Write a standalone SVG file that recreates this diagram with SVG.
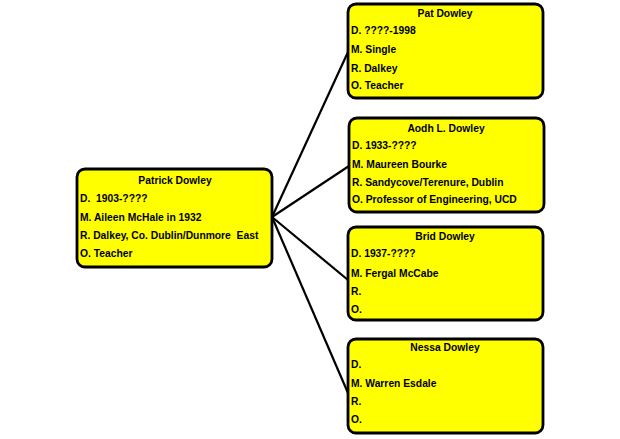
<svg xmlns="http://www.w3.org/2000/svg" width="620" height="439" viewBox="0 0 620 439">
<style>
.box{fill:#ffff00;stroke:#000;stroke-width:2.8}
text{font-family:"Liberation Sans",Arial,sans-serif;font-weight:bold;font-size:10.3px;fill:#000}
.t{text-anchor:middle}
.c{stroke:#000;stroke-width:2.2;fill:none}
</style>
<rect width="620" height="439" fill="#fff"/>
<g id="connectors">
<line class="c" x1="272" y1="217" x2="348" y2="52"/>
<line class="c" x1="272" y1="217" x2="349" y2="166"/>
<line class="c" x1="272" y1="217" x2="348" y2="280"/>
<line class="c" x1="272" y1="217" x2="348" y2="393"/>
</g>
<g id="patrick">
<rect class="box" x="77" y="169" width="195" height="98" rx="8"/>
<text class="t" x="175" y="184">Patrick Dowley</text>
<text x="80" y="202" xml:space="preserve">D.  1903-????</text>
<text x="80" y="221">M. Aileen McHale in 1932</text>
<text x="80" y="239" xml:space="preserve">R. Dalkey, Co. Dublin/Dunmore  East</text>
<text x="80" y="257">O. Teacher</text>
</g>
<g id="pat">
<rect class="box" x="348" y="4" width="195" height="94" rx="8"/>
<text class="t" x="445" y="17">Pat Dowley</text>
<text x="351" y="34">D. ????-1998</text>
<text x="351" y="53">M. Single</text>
<text x="351" y="72">R. Dalkey</text>
<text x="351" y="89">O. Teacher</text>
</g>
<g id="aodh">
<rect class="box" x="349" y="118" width="195" height="94" rx="8"/>
<text class="t" x="446" y="132">Aodh L. Dowley</text>
<text x="352" y="149">D. 1933-????</text>
<text x="352" y="168">M. Maureen Bourke</text>
<text x="352" y="186">R. Sandycove/Terenure, Dublin</text>
<text x="352" y="203">O. Professor of Engineering, UCD</text>
</g>
<g id="brid">
<rect class="box" x="348" y="227" width="195" height="93" rx="8"/>
<text class="t" x="445" y="240">Brid Dowley</text>
<text x="351" y="257">D. 1937-????</text>
<text x="351" y="277">M. Fergal McCabe</text>
<text x="351" y="295">R.</text>
<text x="351" y="313">O.</text>
</g>
<g id="nessa">
<rect class="box" x="348" y="339" width="195" height="94" rx="8"/>
<text class="t" x="445" y="351">Nessa Dowley</text>
<text x="351" y="368">D.</text>
<text x="351" y="387">M. Warren Esdale</text>
<text x="351" y="405">R.</text>
<text x="351" y="423">O.</text>
</g>
</svg>
